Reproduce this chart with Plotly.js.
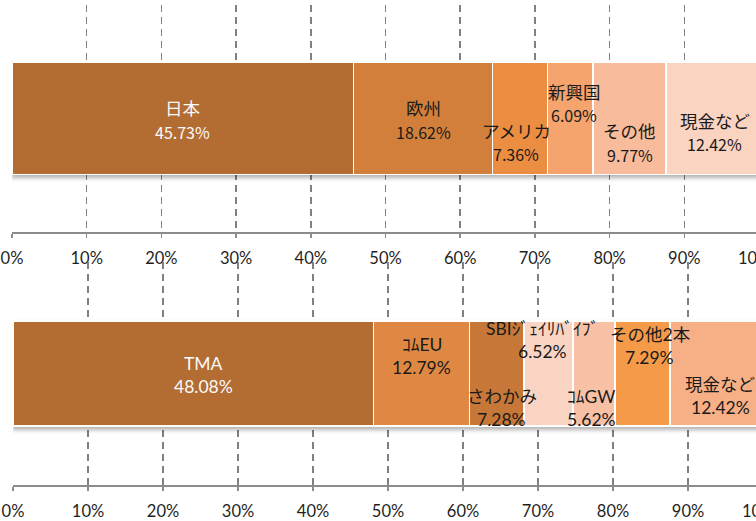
<!DOCTYPE html>
<html>
<head>
<meta charset="utf-8">
<script src="https://cdn.plot.ly/plotly-3.0.1.min.js"></script>
<style>
html,body{margin:0;padding:0;background:#fff;overflow:hidden;width:756px;height:521px;}
#chart{width:790px;height:521px;}
.barlayer{filter:drop-shadow(0px 3px 2px rgba(0,0,0,0.30));}
</style>
</head>
<body>
<div id="chart"></div>
<script>
// ---- data ----
const topCategories = ['日本', '欧州', 'アメリカ', '新興国', 'その他', '現金など'];
const topValues = [45.73, 18.62, 7.36, 6.09, 9.77, 12.42];
const bottomCategories = ['TMA', 'ｺﾑEU', 'さわかみ', 'SBIｼﾞｪｲﾘﾊﾞｲﾌﾞ', 'ｺﾑGW', 'その他2本', '現金など'];
const bottomValues = [48.08, 12.79, 7.28, 6.52, 5.62, 7.29, 12.42];
const tickValues = [0, 10, 20, 30, 40, 50, 60, 70, 80, 90, 100];
const tickLabels = ['0%', '10%', '20%', '30%', '40%', '50%', '60%', '70%', '80%', '90%', '100%'];

// ---- styles ----
const topColors = ['#B36C32', '#D17F3B', '#EC8E42', '#F4A46C', '#F8BC9C', '#FAD3C1'];
const bottomColors = ['#B36C32', '#DE8843', '#C77838', '#F9D4C3', '#F8C1A6', '#F59A48', '#F7AF85'];
const topTextColors = ['#FAFAFA', '#1A1A1A', '#1A1A1A', '#1A1A1A', '#1A1A1A', '#1A1A1A'];
const bottomTextColors = ['#FAFAFA', '#1A1A1A', '#1A1A1A', '#1A1A1A', '#1A1A1A', '#1A1A1A', '#1A1A1A'];
// label offsets in pixels [dx, dy(down)]
const topOffsets = [[0, 1], [0, 1], [-4, 23.5], [4, -15.5], [0, 24], [2, 13.5]];
const bottomOffsets = [[10, 1.5], [0, -17.5], [5, 34.5], [-6, -33.5], [-3, 34.5], [7, -27.5], [4, 22]];

const traces = [];
const annotations = [];

function addChart(cats, vals, colors, textColors, offsets, xa, ya, barWidth, nameFont, valueFont, gap) {
  let cum = 0;
  cats.forEach((c, i) => {
    traces.push({
      type: 'bar', orientation: 'h',
      x: [vals[i]], y: ['A'], name: c,
      xaxis: xa, yaxis: ya, width: barWidth,
      marker: {color: colors[i], line: {color: '#FFFFFF', width: 1.5}},
      hoverinfo: 'skip', showlegend: false
    });
    const mid = cum + vals[i] / 2;
    cum += vals[i];
    const [dx, dy] = offsets[i];
    annotations.push({
      x: mid, y: 'A', xref: xa, yref: ya, text: c, showarrow: false,
      xshift: dx, yshift: -dy + gap / 2,
      font: Object.assign({}, nameFont, {color: textColors[i]})
    });
    annotations.push({
      x: mid, y: 'A', xref: xa, yref: ya, text: vals[i].toFixed(2) + '%', showarrow: false,
      xshift: dx, yshift: -dy - gap / 2,
      font: Object.assign({}, valueFont, {color: textColors[i]})
    });
  });
}

addChart(topCategories, topValues, topColors, topTextColors, topOffsets, 'x', 'y', 0.493,
  {family: 'Noto Sans CJK JP', size: 17.5}, {family: 'Noto Sans CJK JP', size: 16}, 24);
addChart(bottomCategories, bottomValues, bottomColors, bottomTextColors, bottomOffsets, 'x2', 'y2', 0.471,
  {family: 'Lato, Noto Sans CJK JP', size: 17.5}, {family: 'Lato, Noto Sans CJK JP', size: 17.5}, 23);

function xAxis(domain, anchor) {
  return {
    domain: domain, anchor: anchor, range: [0, 100], fixedrange: true,
    tickmode: 'array', tickvals: tickValues, ticktext: tickLabels,
    showgrid: true, gridcolor: '#808080', gridwidth: 1.5, griddash: '7px,5px',
    zeroline: false,
    showline: true, linecolor: '#8C8C8C', linewidth: 1.5,
    ticks: 'outside', ticklen: 4, tickwidth: 1.5, tickcolor: '#8C8C8C',
    ticklabelstandoff: 7,
    tickfont: {family: 'Lato, Noto Sans', size: 16.5, color: '#1F1F1F'}
  };
}
function yAxis(domain, anchor) {
  return {
    domain: domain, anchor: anchor, type: 'category', range: [-0.5, 0.5], fixedrange: true,
    showgrid: false, zeroline: false, showline: false, showticklabels: false, ticks: ''
  };
}

const layout = {
  width: 790, height: 521,
  margin: {l: 12, r: 18, t: 5, b: 36},
  paper_bgcolor: '#FFFFFF', plot_bgcolor: 'rgba(0,0,0,0)',
  barmode: 'stack',
  xaxis: xAxis([0, 0.98289], 'y'),
  yaxis: yAxis([0.52708, 1], 'x'),
  xaxis2: xAxis([0.001316, 0.988158], 'y2'),
  yaxis2: yAxis([0, 0.46458], 'x2'),
  annotations: annotations,
  showlegend: false
};

Plotly.newPlot('chart', traces, layout, {displayModeBar: false, staticPlot: true});
</script>
</body>
</html>
